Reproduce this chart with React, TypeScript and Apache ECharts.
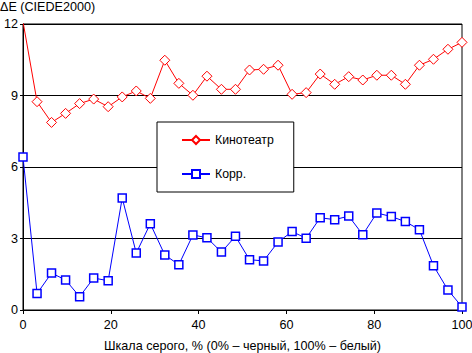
import React, { useEffect, useRef } from "react";
import * as echarts from "echarts";

const xValues = [0, 3.2, 6.5, 9.7, 12.9, 16.1, 19.4, 22.6, 25.8, 29, 32.3, 35.5, 38.7, 41.9, 45.2, 48.4, 51.6, 54.8, 58.1, 61.3, 64.5, 67.7, 71, 74.2, 77.4, 80.6, 83.9, 87.1, 90.3, 93.5, 96.8, 100];
const cinemaValues = [12.1, 8.74, 7.87, 8.25, 8.66, 8.85, 8.53, 8.94, 9.19, 8.88, 10.48, 9.51, 9.01, 9.81, 9.26, 9.26, 10.07, 10.1, 10.27, 9.05, 9.12, 9.9, 9.47, 9.79, 9.65, 9.85, 9.85, 9.47, 10.27, 10.52, 10.94, 11.23];
const corrValues = [6.42, 0.69, 1.55, 1.26, 0.56, 1.34, 1.23, 4.7, 2.39, 3.62, 2.31, 1.9, 3.15, 3.03, 2.43, 3.09, 2.11, 2.06, 2.85, 3.29, 3.01, 3.87, 3.79, 3.94, 3.16, 4.07, 3.92, 3.71, 3.37, 1.86, 0.84, 0.13];
const seriesNames = ["Кинотеатр", "Корр."];
const yTitle = "ΔE (CIEDE2000)";
const xTitle = "Шкала серого, % (0% – черный, 100% – белый)";

const FONT = "Liberation Sans, Arial, sans-serif";
const FS = 12.6;

export default function App() {
  const ref = useRef<HTMLDivElement>(null);
  useEffect(() => {
    const chart = echarts.init(ref.current!, null, { renderer: "svg" });
    const pairs = (vals: number[]) => vals.map((v, i) => [xValues[i], v]);
    chart.setOption({
      animation: false,
      backgroundColor: "#ffffff",
      textStyle: { fontFamily: FONT },
      title: {
        text: yTitle,
        left: -5,
        top: -5,
        textStyle: { fontSize: FS, fontWeight: "normal", color: "#000", fontFamily: FONT },
      },
      grid: {
        left: 23,
        right: 10,
        top: 24,
        bottom: 43,
        show: true,
        borderColor: "#000",
        borderWidth: 1,
        containLabel: false,
        outerBoundsMode: "none",
      },
      legend: {
        orient: "vertical",
        left: 157,
        top: 122,
        width: 134,
        padding: [12, 20, 12, 24],
        itemWidth: 28,
        itemHeight: 10,
        itemGap: 22,
        backgroundColor: "#fff",
        borderColor: "#000",
        borderWidth: 1,
        textStyle: { fontSize: 12.3, color: "#000", fontFamily: FONT },
        data: seriesNames,
      },
      xAxis: {
        type: "value",
        min: 0,
        max: 100,
        interval: 20,
        name: xTitle,
        nameLocation: "middle",
        nameGap: 29,
        nameTextStyle: { fontSize: FS, color: "#000", fontFamily: FONT },
        axisLine: { show: true, lineStyle: { color: "#000", width: 1 } },
        axisTick: { show: true, length: 4, lineStyle: { color: "#000" } },
        axisLabel: { color: "#000", fontSize: FS, margin: 8, fontFamily: FONT },
        splitLine: { show: false },
      },
      yAxis: {
        type: "value",
        min: 0,
        max: 12,
        interval: 3,
        axisLine: { show: true, lineStyle: { color: "#000", width: 1 } },
        axisTick: { show: true, length: 3, lineStyle: { color: "#000" } },
        axisLabel: { color: "#000", fontSize: FS, margin: 5, fontFamily: FONT },
        splitLine: { show: true, lineStyle: { color: "#000", width: 1 } },
      },
      series: [
        {
          name: seriesNames[0],
          type: "line",
          data: pairs(cinemaValues),
          symbol: "diamond",
          symbolSize: 10,
          showAllSymbol: true,
          lineStyle: { color: "#ff0000", width: 1 },
          itemStyle: { color: "#ffffff", borderColor: "#ff0000", borderWidth: 1 },
          emphasis: { disabled: true },
          clip: true,
        },
        {
          name: seriesNames[1],
          type: "line",
          data: pairs(corrValues),
          symbol: "rect",
          symbolSize: 8,
          showAllSymbol: true,
          lineStyle: { color: "#0000ff", width: 1 },
          itemStyle: { color: "#ffffff", borderColor: "#0000ff", borderWidth: 1.5 },
          emphasis: { disabled: true },
          clip: true,
        },
      ],
    });
    return () => chart.dispose();
  }, []);
  return <div ref={ref} style={{ width: 472, height: 353, position: "absolute", left: 0, top: 0 }} />;
}
